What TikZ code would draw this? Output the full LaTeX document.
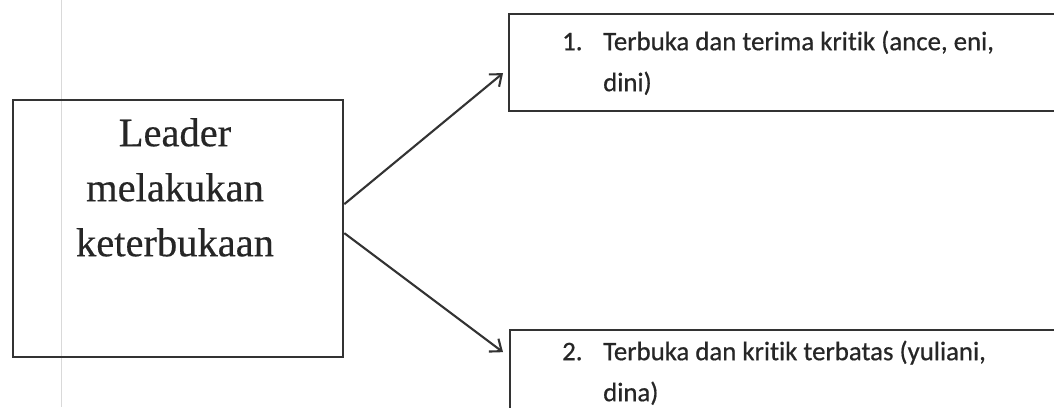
\documentclass[tikz,border=0pt]{standalone}
\usepackage{fontspec}
\setmainfont{Liberation Serif}[FakeBold=0.4]
\newfontfamily\calib{Carlito}[Ligatures=NoCommon, FakeBold=0.6]
\usetikzlibrary{arrows.meta}
\begin{document}
\begin{tikzpicture}[x=1pt,y=-1pt,
  box/.style={draw=black!80, line width=2.3pt, inner sep=0pt},
  conn/.style={-{Straight Barb[length=10pt,width=16pt,line width=2.1pt]}, line width=2.1pt, draw=black!80},
  leadtxt/.style={font=\fontsize{40.5}{55}\selectfont, text=black!85, align=center, inner sep=0pt},
  itemtxt/.style={font=\calib\fontsize{26.8}{41}\selectfont, text=black!85, align=left, inner sep=0pt}]
\clip (0,0) rectangle (1054,407);
\fill[white] (0,0) rectangle (1054,407);
% faint page margin line of the scan
\draw[black!15, line width=1pt] (61,0) -- (61,407);
% left box
\node[box, anchor=north west, minimum width=330pt, minimum height=257pt] (leader) at (12,99) {};
\node[leadtxt, anchor=north] (leadertext) at (175,107.5) {\strut Leader\\melakukan\\keterbukaan};
% right boxes
\node[box, anchor=north west, minimum width=546pt, minimum height=97pt] (box1) at (508,13) {};
\node[itemtxt, anchor=north west] (num1) at (562,21.3) {\strut 1.};
\node[itemtxt, anchor=north west] (item1) at (603,21.3) {\strut Terbuka dan terima kritik (ance, eni,\\dini)};
\node[box, anchor=north west, minimum width=560pt, minimum height=100pt] (box2) at (509,329) {};
\node[itemtxt, anchor=north west] (num2) at (562,331.3) {\strut 2.};
\node[itemtxt, anchor=north west] (item2) at (603,331.3) {\strut Terbuka dan kritik terbatas (yuliani,\\dina)};
% connectors
\draw[conn] ([yshift=24.5pt]leader.east) -- ([xshift=-5pt,yshift=-10.5pt]box1.west);
\draw[conn] ([yshift=-4.5pt]leader.east) -- ([xshift=-6pt,yshift=28pt]box2.west);
\end{tikzpicture}
\end{document}
